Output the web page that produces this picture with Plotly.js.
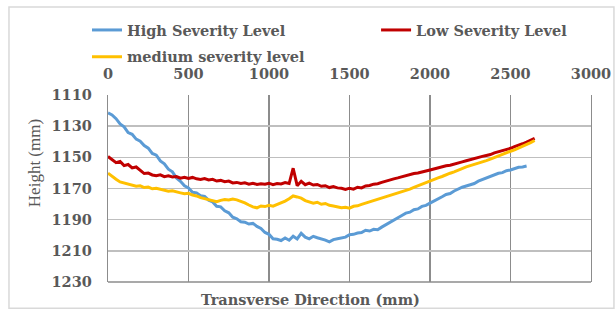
<!DOCTYPE html>
<html>
<head>
<meta charset="utf-8">
<script src="https://cdn.plot.ly/plotly-3.0.1.min.js"></script>
<style>
html,body{margin:0;padding:0;background:#fff;}
#chart{width:616px;height:311px;}
</style>
</head>
<body>
<div id="chart"></div>
<script>
// Transverse position (mm)
var transverse = [0,25,50,75,100,125,150,175,200,225,250,275,300,325,350,375,400,425,450,475,
500,525,550,575,600,625,650,675,700,725,750,775,800,825,850,875,900,925,950,975,
1000,1025,1050,1075,1100,1125,1150,1175,1200,1225,1250,1275,1300,1325,1350,1375,1400,1425,1450,1475,
1500,1525,1550,1575,1600,1625,1650,1675,1700,1725,1750,1775,1800,1825,1850,1875,1900,1925,1950,1975,
2000,2025,2050,2075,2100,2125,2150,2175,2200,2225,2250,2275,2300,2325,2350,2375,2400,2425,2450,2475,
2500,2525,2550,2575,2600,2625,2650];

// Height (mm) for each severity level
var highSeverity = [1121.5,1122.8,1125.2,1128.6,1130.4,1134.1,1135.2,1138.3,1139.6,1142.4,1144.1,1147.5,1148.6,1152.3,1154.2,1157.6,1159.3,1163.2,1165.4,1168.3,
1169.6,1172.4,1172.8,1174.6,1175.1,1177.5,1178.6,1181.4,1181.8,1184.3,1185.6,1188.4,1189.5,1191.3,1191.6,1192.8,1192.4,1194.3,1195.6,1198.2,
1199.4,1202.3,1202.6,1203.4,1201.8,1203.2,1200.6,1202.4,1198.8,1201.2,1202.3,1200.7,1201.6,1202.2,1203.1,1204.2,1202.8,1202.3,1201.5,1201.2,
1199.6,1199.4,1198.6,1198.3,1196.8,1197.3,1196.2,1196.5,1194.8,1193.2,1191.6,1190.4,1188.6,1187.3,1185.8,1185.2,1183.6,1183.1,1181.5,1180.8,
1179.4,1178.2,1176.6,1175.3,1173.8,1173.2,1171.6,1170.3,1169.2,1168.4,1167.6,1166.8,1165.3,1164.2,1163.4,1162.1,1161.3,1160.2,1159.8,1158.6,
1158.1,1157.2,1156.4,1156.2,1155.6];

var lowSeverity = [1149.5,1151.2,1153.4,1152.6,1155.3,1154.6,1156.8,1156.2,1158.6,1160.4,1160.1,1161.3,1161.8,1161.2,1162.4,1161.9,1162.6,1162.3,1163.4,1162.8,
1163.6,1162.9,1163.8,1164.2,1163.6,1164.5,1164.1,1165.2,1164.8,1165.6,1165.2,1166.4,1166.1,1166.8,1166.3,1167.2,1166.6,1167.4,1166.9,1167.3,
1166.6,1167.5,1166.8,1167.1,1166.2,1166.8,1157.0,1168.2,1165.4,1167.6,1166.6,1167.8,1167.4,1168.6,1168.2,1169.4,1168.8,1169.6,1169.9,1170.6,
1169.8,1170.4,1169.2,1169.6,1168.4,1168.1,1167.2,1166.9,1166.1,1165.2,1164.6,1163.8,1163.2,1162.4,1162.1,1161.2,1160.4,1160.1,1159.2,1158.8,
1158.1,1157.4,1156.6,1156.2,1155.4,1155.1,1154.2,1153.8,1152.9,1152.2,1151.4,1150.8,1150.2,1149.4,1148.8,1148.2,1147.1,1146.4,1145.8,1144.9,
1144.2,1143.1,1142.4,1141.3,1140.2,1139.1,1137.8];

var mediumSeverity = [1160.2,1162.4,1164.1,1165.8,1166.6,1167.4,1167.8,1168.6,1168.3,1169.4,1169.1,1170.2,1169.8,1170.6,1171.2,1171.8,1171.5,1172.4,1172.8,1173.4,
1173.1,1174.2,1174.8,1175.9,1176.6,1177.2,1177.8,1178.4,1177.6,1177.1,1177.4,1176.8,1177.3,1178.1,1179.2,1180.6,1181.8,1182.4,1181.2,1181.6,
1180.8,1181.3,1180.2,1179.4,1178.1,1176.6,1174.8,1175.4,1176.2,1177.8,1178.6,1179.4,1178.8,1180.1,1179.6,1180.8,1181.2,1181.8,1182.4,1182.1,
1182.6,1181.4,1181.1,1180.2,1179.4,1178.2,1177.4,1176.6,1176.1,1175.2,1174.4,1173.6,1172.9,1172.1,1171.2,1170.4,1169.3,1168.2,1167.4,1166.3,
1165.2,1164.1,1163.2,1162.3,1161.1,1160.2,1159.3,1158.1,1157.2,1156.1,1155.3,1154.6,1153.8,1152.9,1152.1,1151.2,1150.1,1149.2,1148.3,1147.2,
1146.1,1145.2,1144.1,1143.2,1141.8,1140.6,1139.2];

var seriesNames = ['High Severity Level','Low Severity Level','medium severity level'];
var xTicks = [0,500,1000,1500,2000,2500,3000];
var yTicks = [1110,1130,1150,1170,1190,1210,1230];

var txt = '#595959';
var fontB = {family:'DejaVu Serif, serif', size:14.5, color:txt, weight:'bold'};

var traces = [
  {x:transverse, y:highSeverity, name:seriesNames[0], type:'scatter', mode:'lines',
   line:{color:'#5b9bd5', width:3}, legend:'legend'},
  {x:transverse, y:lowSeverity, name:seriesNames[1], type:'scatter', mode:'lines',
   line:{color:'#c00000', width:3}, legend:'legend2'},
  {x:transverse, y:mediumSeverity, name:seriesNames[2], type:'scatter', mode:'lines',
   line:{color:'#ffc000', width:3}, legend:'legend3'}
];

function leg(x, y) {
  return {orientation:'h', x:x, xanchor:'left', y:y, yanchor:'top',
          font:fontB, bgcolor:'rgba(0,0,0,0)'};
}

var layout = {
  width:616, height:311,
  margin:{l:108, r:25, t:95, b:29},
  paper_bgcolor:'#ffffff', plot_bgcolor:'#ffffff',
  font:fontB,
  showlegend:true,
  legend:leg(-0.0435, 1.433),
  legend2:leg(0.555, 1.433),
  legend3:leg(-0.0435, 1.29),
  xaxis:{side:'top', range:[0,3000], tickvals:xTicks, ticktext:xTicks.map(String),
         showgrid:true, gridcolor:'#8c8c8c', gridwidth:1.2, zeroline:false,
         showline:false, ticks:'', ticklabelstandoff:12, tickfont:fontB, fixedrange:true},
  yaxis:{range:[1230,1110], tickvals:yTicks, ticktext:yTicks.map(String),
         showgrid:true, gridcolor:'#bfbfbf', gridwidth:1.5, zeroline:false,
         showline:true, linecolor:'#8c8c8c', linewidth:1.2, mirror:true,
         ticks:'', ticklabelstandoff:12, tickfont:fontB, fixedrange:true},
  shapes:[
    {type:'line', xref:'paper', yref:'paper', x0:0, x1:1, y0:0, y1:0,
     line:{color:'#8c8c8c', width:1.5}},
    {type:'rect', xref:'paper', yref:'paper', x0:-0.205, x1:1.0475, y0:-0.141, y1:1.47,
     line:{color:'#d9d9d9', width:1.5}, fillcolor:'rgba(0,0,0,0)', layer:'below'}
  ],
  annotations:[
    {text:'Transverse Direction (mm)', xref:'paper', yref:'paper', x:0.42, y:-0.091,
     xanchor:'center', yanchor:'middle', showarrow:false, font:fontB},
    {text:'Height (mm)', xref:'paper', yref:'paper', x:-0.153, y:0.636, textangle:-90,
     xanchor:'center', yanchor:'middle', showarrow:false,
     font:{family:'Liberation Serif, serif', size:17, color:txt, weight:'normal'}}
  ]
};

Plotly.newPlot('chart', traces, layout, {displayModeBar:false, staticPlot:true});
</script>
</body>
</html>
